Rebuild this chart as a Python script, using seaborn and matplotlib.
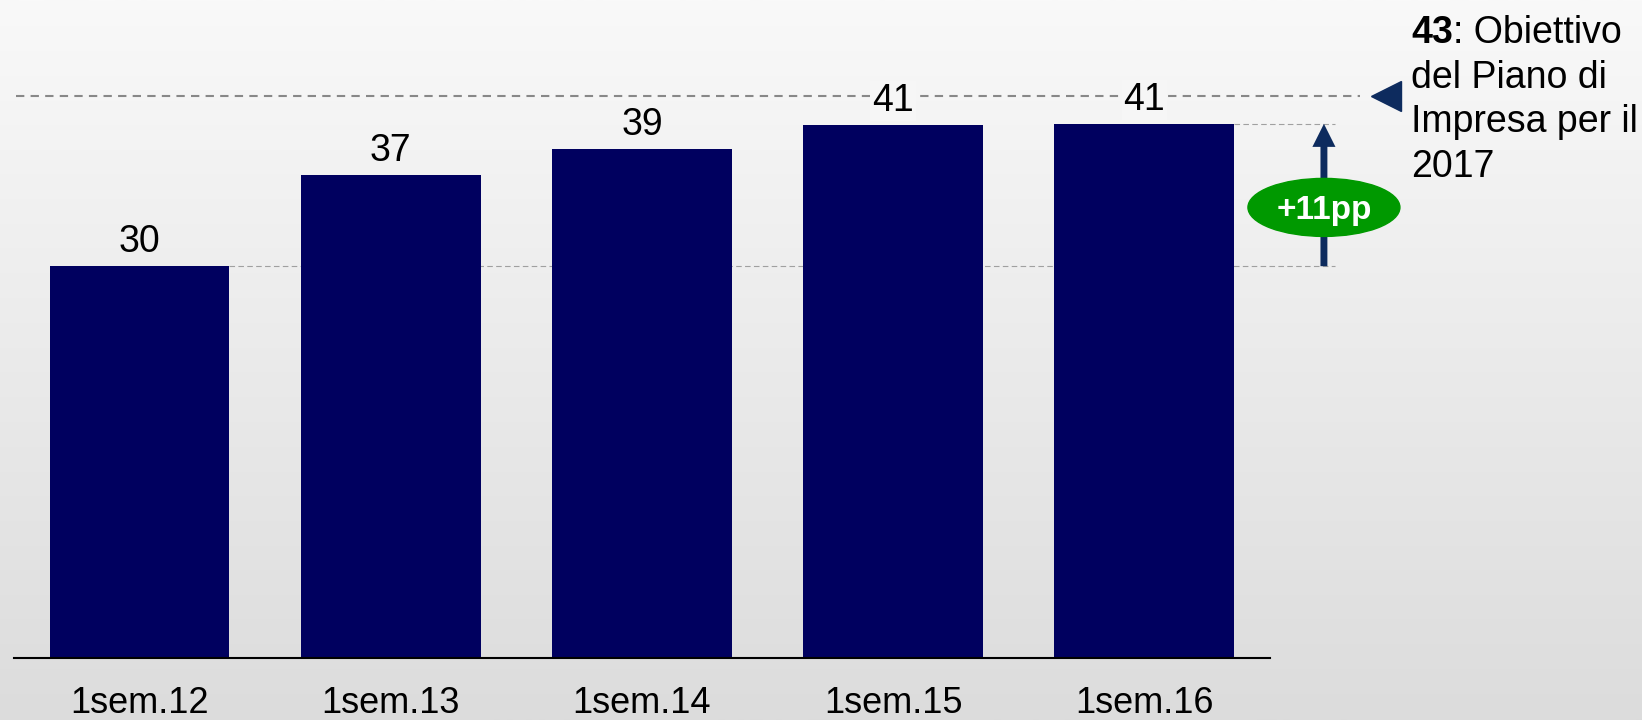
import numpy as np
import pandas as pd
import matplotlib
matplotlib.use("Agg")
import matplotlib.pyplot as plt
import seaborn as sns
from matplotlib.patches import Ellipse, ArrowStyle
from matplotlib.colors import LinearSegmentedColormap

categories = ["1sem.12", "1sem.13", "1sem.14", "1sem.15", "1sem.16"]
values = [30.0, 37.0, 39.0, 40.8, 40.9]
value_labels = ["30", "37", "39", "41", "41"]
target_value = 43
target_bold = "43"
target_lines = [": Obiettivo", "del Piano di", "Impresa per il", "2017"]
delta_label = "+11pp"

BAR_COLOR = "#00005f"
ARROW_COLOR = "#0d2b5e"
GREEN = "#009900"

sns.set_theme(style="white")
plt.rcParams['font.family'] = ['Liberation Sans', 'DejaVu Sans']

fig = plt.figure(figsize=(16.42, 7.2), dpi=100)

# gradient background
bg = fig.add_axes([0, 0, 1, 1], zorder=-10)
grad = np.linspace(0, 1, 256).reshape(-1, 1)
cmap = LinearSegmentedColormap.from_list('bg', ['#f9f9f9', '#dcdcdc'])
bg.imshow(grad, aspect='auto', cmap=cmap, extent=[0, 1, 0, 1], origin='upper')
bg.axis('off')

ax = fig.add_axes([0.0085, 0.0861, 0.7649, 0.907])
ax.patch.set_alpha(0)
df = pd.DataFrame({'cat': categories, 'val': values})
sns.barplot(data=df, x='cat', y='val', color=BAR_COLOR, width=0.716,
            linewidth=0, saturation=1, ax=ax, zorder=2)

ax.set_xlim(-0.5, 4.5)
ax.set_ylim(0, 50)
ax.set_xlabel("")
ax.set_ylabel("")
ax.set_yticks([])
for s in ['top', 'right', 'left']:
    ax.spines[s].set_visible(False)
ax.spines['bottom'].set_color('black')
ax.spines['bottom'].set_linewidth(1.5)
ax.spines['bottom'].set_zorder(3)
ax.tick_params(axis='x', length=0, pad=20.5, labelsize=26, colors='black')

# value labels
for i, (v, lbl) in enumerate(zip(values, value_labels)):
    kw = {}
    if abs(v - target_value) < 4:
        kw['bbox'] = dict(boxstyle='square,pad=0.05', fc='#f6f6f6', ec='none')
    ax.annotate(lbl, (i, v), xytext=(0, 10), textcoords='offset points',
                ha='center', va='baseline', fontsize=27, color='black',
                zorder=4, **kw)

# target dashed line
ax.plot([-0.49, 4.86], [target_value, target_value], color='#888888', lw=1.5,
        ls=(0, (4, 3)), clip_on=False, zorder=1)
ax.plot([4.964], [target_value], marker='<', markersize=21, color=ARROW_COLOR,
        clip_on=False, zorder=3, ls='none')

# thin reference lines
half = 0.716 / 2
ax.plot([0 + half, 4.759], [values[0], values[0]], color='#a0a0a0', lw=0.8,
        ls=(0, (5, 3)), clip_on=False, zorder=1)
ax.plot([4 + half, 4.759], [values[-1], values[-1]], color='#a0a0a0', lw=0.8,
        ls=(0, (5, 3)), clip_on=False, zorder=1)

# arrow
ax.annotate('', xy=(4.715, values[-1]), xytext=(4.715, values[0]),
            arrowprops=dict(arrowstyle=ArrowStyle.Simple(head_length=1, head_width=1, tail_width=0.3),
                            mutation_scale=16.6, color=ARROW_COLOR, lw=0,
                            shrinkA=0, shrinkB=0),
            annotation_clip=False, zorder=4)

ell_y = 34.5
ax.add_patch(Ellipse((4.715, ell_y), width=0.605, height=4.44, color=GREEN,
                     clip_on=False, zorder=5))
ax.annotate(delta_label, (4.715, ell_y), xytext=(0, -8.0), textcoords='offset points',
            ha='center', va='baseline', fontsize=24, fontweight='bold',
            color='white', zorder=6, annotation_clip=False)

# right-side text
x0 = 0.8593
ys = [0.940, 0.878, 0.817, 0.754]
t43 = fig.text(x0, ys[0], target_bold, fontsize=27, fontweight='bold',
               va='baseline', ha='left', color='black')
fig.add_artist(plt.Annotation(target_lines[0], xy=(1, ys[0]),
                              xycoords=(t43, 'figure fraction'),
                              va='baseline', ha='left', fontsize=27, color='black'))
for line, y in zip(target_lines[1:], ys[1:]):
    fig.text(x0, y, line, fontsize=27, va='baseline', ha='left', color='black')

fig.savefig('out.png', dpi=100)
